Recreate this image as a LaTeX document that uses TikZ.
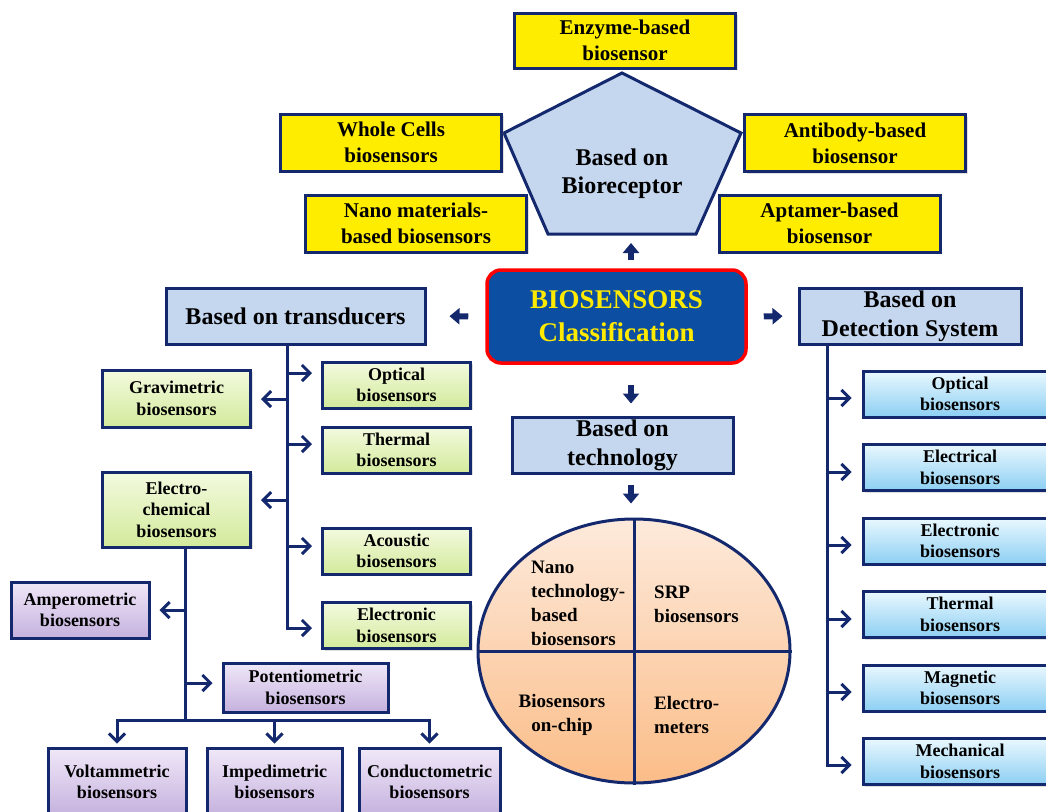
\documentclass[tikz,border=0pt]{standalone}
\usepackage{fontspec}
\setmainfont{Liberation Serif}
\usetikzlibrary{arrows.meta,shapes.geometric,shadows}
\definecolor{navy}{HTML}{14286E}
\definecolor{hbox}{HTML}{C5D6EF}
\definecolor{ybox}{HTML}{FFED00}
\definecolor{cblue}{HTML}{0B4EA2}
\definecolor{ctxt}{HTML}{FFEA00}
\definecolor{gtop}{HTML}{F3FADF}
\definecolor{gbot}{HTML}{D3EA9B}
\definecolor{ptop}{HTML}{F0E8F8}
\definecolor{pbot}{HTML}{C5B1DE}
\definecolor{btop}{HTML}{E9F8FE}
\definecolor{bbot}{HTML}{8DCFF3}
\definecolor{otop}{HTML}{FDEADC}
\definecolor{obot}{HTML}{FBBD88}

\begin{document}
\begin{tikzpicture}[x=1pt, y=-1pt,
  box/.style={draw=navy, line width=3pt, align=center, inner sep=2pt, drop shadow={opacity=0.25, shadow xshift=2pt, shadow yshift=-2pt}},
  yel/.style={box, fill=ybox, minimum width=221pt, minimum height=57pt, font=\bfseries\fontsize{21}{26}\selectfont},
  hdr/.style={box, fill=hbox, minimum height=56pt, font=\bfseries\fontsize{24}{29}\selectfont},
  grn/.style={box, top color=gtop, bottom color=gbot, minimum width=148pt, minimum height=46pt, font=\bfseries\fontsize{18}{21.5}\selectfont},
  pur/.style={box, top color=ptop, bottom color=pbot, minimum height=56pt, font=\bfseries\fontsize{18}{21.5}\selectfont},
  det/.style={box, top color=btop, bottom color=bbot, minimum width=194pt, minimum height=46pt, font=\bfseries\fontsize{18}{21.5}\selectfont},
  ln/.style={draw=navy, line width=3pt},
  arr/.style={ln, -{Straight Barb[length=8pt,width=16pt,line width=3pt]}, shorten >=9pt},
  fat/.style={draw=navy, line width=6pt, -{Triangle[length=10pt,width=16pt]}},
  qtxt/.style={font=\bfseries\fontsize{19}{24}\selectfont, inner sep=0pt}]
\useasboundingbox (0,0) rectangle (1046,811);
\fill[white] (0,0) rectangle (1046,811);
\clip (0,0) rectangle (1046,811);

% bioreceptor
\draw[ln, fill=hbox] (622,73) -- (741,133) -- (696,234) -- (548,234) -- (504,133) -- cycle;
\node[font=\bfseries\fontsize{24}{28}\selectfont, align=center] (recept) at (622,174) {Based on\\Bioreceptor};
\node[yel, minimum height=55pt] (enz) at (625,40.5) {Enzyme-based\\biosensor};
\node[yel] (whole) at (391,142.5) {Whole Cells\\biosensors};
\node[yel] (nanom) at (416,223.5) {Nano materials-\\based biosensors};
\node[yel] (anti) at (855,143) {Antibody-based\\biosensor};
\node[yel] (apt) at (829.5,223.5) {Aptamer-based\\biosensor};

% centre and headers
\node[draw=red, line width=3.5pt, fill=cblue, rounded corners=14pt, minimum width=259pt, minimum height=93pt, text=ctxt, font=\bfseries\fontsize{27}{33}\selectfont, align=center] (core) at (616.5,316.5) {BIOSENSORS\\Classification};
\node[hdr, minimum width=259pt] (trans) at (295.5,316) {Based on transducers};
\node[hdr, minimum width=222pt] (detect) at (910,316) {Based on\\Detection System};
\node[hdr, minimum width=221pt] (tech) at (622.5,445) {Based on\\technology};

% transducers
\node[grn] (opt) at (396.5,385) {Optical\\biosensors};
\node[grn, minimum height=57pt] (grav) at (176.5,398.5) {Gravimetric\\biosensors};
\node[grn] (therm) at (396.5,450) {Thermal\\biosensors};
\node[grn, minimum height=75pt] (echem) at (176.5,509.5) {Electro-\\chemical\\biosensors};
\node[grn] (acou) at (396.5,551) {Acoustic\\biosensors};
\node[grn] (elec) at (396.5,625.5) {Electronic\\biosensors};

% electrochemical
\node[pur, minimum width=138pt] (amp) at (80,610) {Amperometric\\biosensors};
\node[pur, minimum width=165pt, minimum height=49pt] (pot) at (305.5,687.5) {Potentiometric\\biosensors};
\node[pur, minimum width=138pt, minimum height=68pt] (volt) at (117,782) {Voltammetric\\biosensors};
\node[pur, minimum width=135pt, minimum height=68pt] (imped) at (274.5,782) {Impedimetric\\biosensors};
\node[pur, minimum width=141pt, minimum height=68pt] (cond) at (429.5,782) {Conductometric\\biosensors};

% detection system
\node[det] (dopt) at (960,394) {Optical\\biosensors};
\node[det] (delec) at (960,467.5) {Electrical\\biosensors};
\node[det] (delc) at (960,541) {Electronic\\biosensors};
\node[det] (dthm) at (960,614.5) {Thermal\\biosensors};
\node[det] (dmag) at (960,688) {Magnetic\\biosensors};
\node[det] (dmech) at (960,761.5) {Mechanical\\biosensors};

% technology
\node[ellipse, draw=navy, line width=3pt, top color=otop, bottom color=obot, minimum width=312pt, minimum height=264pt, inner sep=0pt] (tcirc) at (634,651) {};
\draw[ln] (tcirc.north) -- (tcirc.south);
\draw[ln] (tcirc.west) -- (tcirc.east);
\node[qtxt, anchor=west, align=left] (q1) at (531,603) {Nano\\technology-\\based\\biosensors};
\node[qtxt, anchor=west, align=left] (q2) at (654,604) {SRP\\biosensors};
\node[qtxt, align=center] (q3) at (562,715) {Biosensors\\on-chip};
\node[qtxt, anchor=west, align=left] (q4) at (654,715) {Electro-\\meters};

% fat arrows
\coordinate (ax) at (631,0);
\coordinate (pbot) at (622,234);
\draw[fat, shorten <=8pt, shorten >=9pt] (core.north -| ax) -- (pbot -| ax);
\draw[fat, shorten <=17pt, shorten >=23pt] (core.west) -- (trans.east);
\draw[fat, shorten <=16pt, shorten >=15pt] (core.east) -- (detect.west);
\draw[fat, shorten <=20pt, shorten >=12pt] (core.south -| ax) -- (tech.north -| ax);
\draw[fat, shorten <=10pt, shorten >=14pt] (tech.south -| ax) -- (tcirc.north -| ax);

% transducer branches
\coordinate (t1) at (287,373);
\coordinate (t2) at (287,399);
\coordinate (t3) at (287,444);
\coordinate (t4) at (287,500);
\coordinate (t5) at (287,546);
\coordinate (t6) at (287,628);
\draw[arr] (trans.south -| t6) -- (t6) -- (t6 -| elec.west);
\draw[arr] (t1) -- (t1 -| opt.west);
\draw[arr] (t2) -- (t2 -| grav.east);
\draw[arr] (t3) -- (t3 -| therm.west);
\draw[arr] (t4) -- (t4 -| echem.east);
\draw[arr] (t5) -- (t5 -| acou.west);

% electrochemical branches
\coordinate (e1) at (185,610);
\coordinate (e2) at (185,683);
\coordinate (e3) at (185,720);
\draw[ln] (echem.south -| e3) -- (e3);
\draw[arr] (e1) -- (e1 -| amp.east);
\draw[arr] (e2) -- (e2 -| pot.west);
\draw[arr, shorten >=3pt] (e3) -| (volt.north);
\draw[arr, shorten >=3pt] (e3) -| (imped.north);
\draw[arr, shorten >=3pt] (e3) -| (cond.north);

% detection branches
\coordinate (d1) at (827,398);
\coordinate (d2) at (827,472);
\coordinate (d3) at (827,545);
\coordinate (d4) at (827,619);
\coordinate (d5) at (827,692);
\coordinate (d6) at (827,765);
\draw[arr, shorten >=10pt] (detect.south -| d6) -- (d6) -- (d6 -| dmech.west);
\draw[arr, shorten >=10pt] (d1) -- (d1 -| dopt.west);
\draw[arr, shorten >=10pt] (d2) -- (d2 -| delec.west);
\draw[arr, shorten >=10pt] (d3) -- (d3 -| delc.west);
\draw[arr, shorten >=10pt] (d4) -- (d4 -| dthm.west);
\draw[arr, shorten >=10pt] (d5) -- (d5 -| dmag.west);
\end{tikzpicture}
\end{document}
